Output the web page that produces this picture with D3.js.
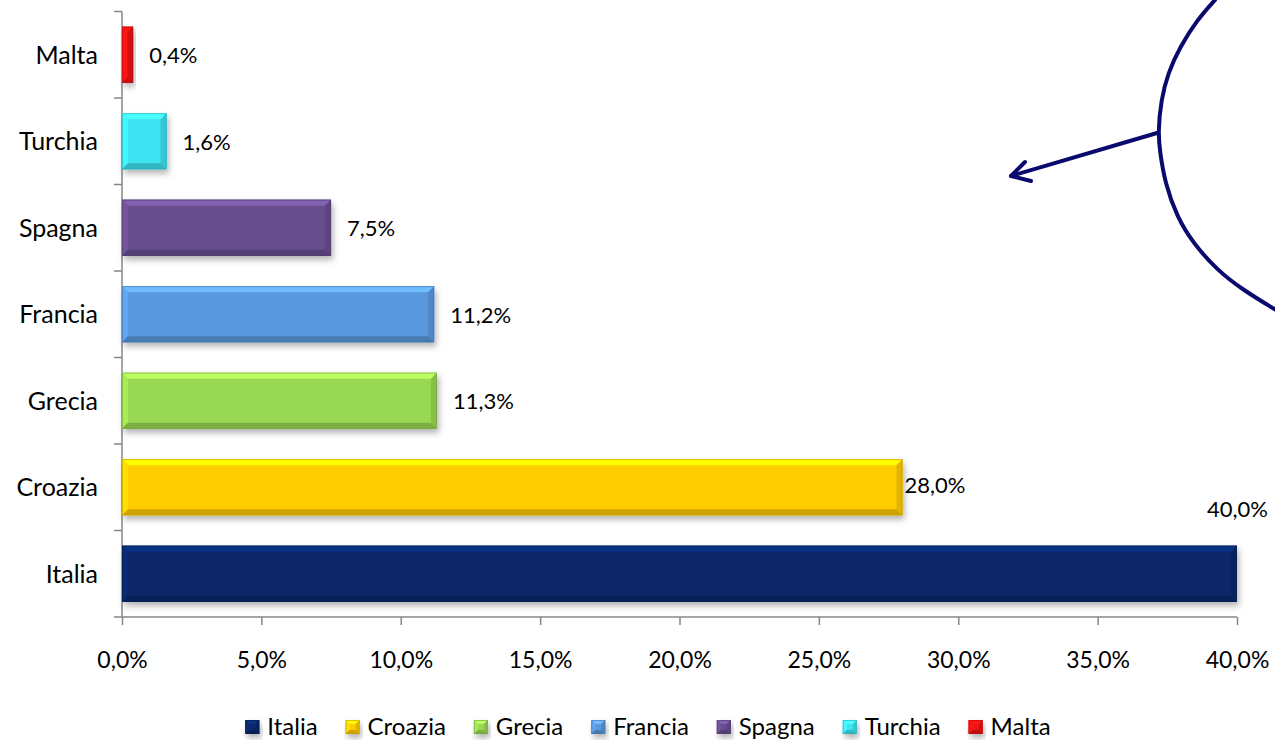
<!DOCTYPE html>
<meta charset="utf-8">
<style>
  body { margin: 0; background: #fff; }
  svg { display: block; }
  text { font-family: Lato, "Open Sans", sans-serif; fill: #000; }
  .axis path, .axis line { stroke: #868686; stroke-width: 1.5px; fill: none; }
</style>
<svg width="1275" height="744"></svg>
<script src="https://d3js.org/d3.v7.min.js"></script>
<script>
  // data (legend order; drawn bottom to top)
  var categories = ["Italia", "Croazia", "Grecia", "Francia", "Spagna", "Turchia", "Malta"];
  var values = [40.0, 28.0, 11.3, 11.2, 7.5, 1.6, 0.4];
  var colors = ["#08286a", "#ffcc00", "#99d852", "#5a98de", "#684e8e", "#3de1ef", "#ee1212"];
  var xTicks = [0, 5, 10, 15, 20, 25, 30, 35, 40];

  var svg = d3.select("svg"),
    width = +svg.attr("width"),
    height = +svg.attr("height");

  var fmt = function (v) { return d3.format(".1f")(v).replace(".", ",") + "%"; };

  var x = d3.scaleLinear().domain([0, 40]).range([122, 1237]);
  var y = d3.scaleBand()
    .domain(categories.slice().reverse())
    .range([11.5, 617])
    .paddingInner(0.35)
    .paddingOuter(0.175);

  var defs = svg.append("defs");
  var f = defs.append("filter").attr("id", "shadow")
    .attr("x", "-10%").attr("y", "-30%").attr("width", "130%").attr("height", "170%");
  f.append("feDropShadow").attr("dx", 2).attr("dy", 4).attr("stdDeviation", 3)
    .attr("flood-color", "#000").attr("flood-opacity", 0.3);

  var bars = categories.map(function (c, i) { return { cat: c, val: values[i], col: colors[i] }; });

  // axes
  var yAxisG = svg.append("g").attr("class", "axis")
    .attr("transform", "translate(" + x(0) + ",0)");
  yAxisG.append("line").attr("y1", y.range()[0]).attr("y2", y.range()[1]);
  var bounds = d3.range(categories.length + 1).map(function (i) { return y.range()[0] + i * y.step(); });
  yAxisG.selectAll(".tk").data(bounds).enter().append("line")
    .attr("x1", -8).attr("x2", 0)
    .attr("y1", function (d) { return d; }).attr("y2", function (d) { return d; });

  var xAxis = d3.axisBottom(x).tickValues(xTicks).tickSize(8).tickFormat(fmt);
  var xAxisG = svg.append("g").attr("class", "axis")
    .attr("transform", "translate(0," + y.range()[1] + ")")
    .call(xAxis);
  xAxisG.select(".domain").attr("d", "M" + x(0) + ",0H" + x(40));
  xAxisG.selectAll("text").attr("y", 43).attr("dy", "0.35em")
    .style("font-family", "Lato, sans-serif")
    .style("font-size", "23px").style("fill", "#000");

  // category labels
  svg.append("g").selectAll("text").data(categories).enter().append("text")
    .attr("x", 98)
    .attr("y", function (d) { return y(d) + y.bandwidth() / 2; })
    .attr("dy", "0.35em")
    .attr("text-anchor", "end")
    .style("font-size", "25px")
    .text(function (d) { return d; });

  // beveled bars
  function bevel(g, x0, y0, w, h, col, b) {
    var x1 = x0 + w, y1 = y0 + h;
    b = Math.min(b, w / 2, h / 2);
    var c = d3.color(col);
    g.append("rect").attr("x", x0).attr("y", y0).attr("width", w).attr("height", h)
      .attr("fill", col).attr("filter", "url(#shadow)");
    var polys = [
      { p: [[x0, y0], [x1, y0], [x1 - b, y0 + b], [x0 + b, y0 + b]], f: c.brighter(0.6) },
      { p: [[x0, y0], [x0 + b, y0 + b], [x0 + b, y1 - b], [x0, y1]], f: c.brighter(0.25) },
      { p: [[x1, y0], [x1, y1], [x1 - b, y1 - b], [x1 - b, y0 + b]], f: c.darker(0.35) },
      { p: [[x0, y1], [x1, y1], [x1 - b, y1 - b], [x0 + b, y1 - b]], f: c.darker(0.6) }
    ];
    polys.forEach(function (q) {
      g.append("path").attr("d", d3.line()(q.p) + "Z").attr("fill", q.f);
    });
    g.append("rect").attr("x", x0 + 0.5).attr("y", y0 + 0.5).attr("width", Math.max(0, w - 1)).attr("height", h - 1)
      .attr("fill", "none").attr("stroke", c.darker(0.8)).attr("stroke-width", 1).attr("stroke-opacity", 0.6);
  }

  var barG = svg.append("g");
  bars.forEach(function (d) {
    bevel(barG.append("g"), x(0), y(d.cat), x(d.val) - x(0), y.bandwidth(), d.col, 6);
  });

  // value labels
  svg.append("g").selectAll("text").data(bars).enter().append("text")
    .style("font-size", "22px")
    .attr("x", function (d) {
      if (d.cat === "Italia") return 1268;
      if (d.cat === "Croazia") return x(d.val) + 2;
      return x(d.val) + 16;
    })
    .attr("y", function (d) {
      if (d.cat === "Italia") return y(d.cat) - 36;
      if (d.cat === "Croazia") return y(d.cat) + y.bandwidth() / 2 - 2;
      return y(d.cat) + y.bandwidth() / 2 + 1;
    })
    .attr("dy", "0.35em")
    .attr("text-anchor", function (d) { return d.cat === "Italia" ? "end" : "start"; })
    .text(function (d) { return fmt(d.val); });

  // legend
  var legend = svg.append("g").attr("transform", "translate(0,727)");
  var items = legend.selectAll("g").data(bars).enter().append("g");
  items.each(function (d) {
    var g = d3.select(this);
    bevel(g, 0, -7, 14, 14, d.col, 4);
    g.append("text").attr("x", 22).attr("dy", "0.35em").style("font-size", "24px").text(d.cat);
  });
  var gap = 28, pos = 0, offs = [];
  items.each(function () {
    offs.push(pos);
    pos += this.getBBox().width + gap;
  });
  var start = 648 - (pos - gap) / 2;
  items.attr("transform", function (d, i) { return "translate(" + (start + offs[i]) + ",0)"; });

  // annotation: arc and arrow
  var arcPts = [[1215, 0], [1197, 20], [1180, 47], [1168, 73], [1161, 100], [1158, 133], [1160, 152],
    [1165, 183], [1177, 217], [1193, 243], [1217, 270], [1243, 290], [1276, 310]];
  var ann = svg.append("g").attr("fill", "none").attr("stroke", "#0a0a6e")
    .attr("stroke-width", 4).attr("stroke-linecap", "round").attr("stroke-linejoin", "round");
  ann.append("path").attr("d", d3.line().curve(d3.curveBasis)(arcPts));
  ann.append("path").attr("d", d3.line()([[1157, 133], [1011, 176]]));
  ann.append("path").attr("d", d3.line()([[1025, 162], [1011, 176], [1031, 181]]));
</script>
